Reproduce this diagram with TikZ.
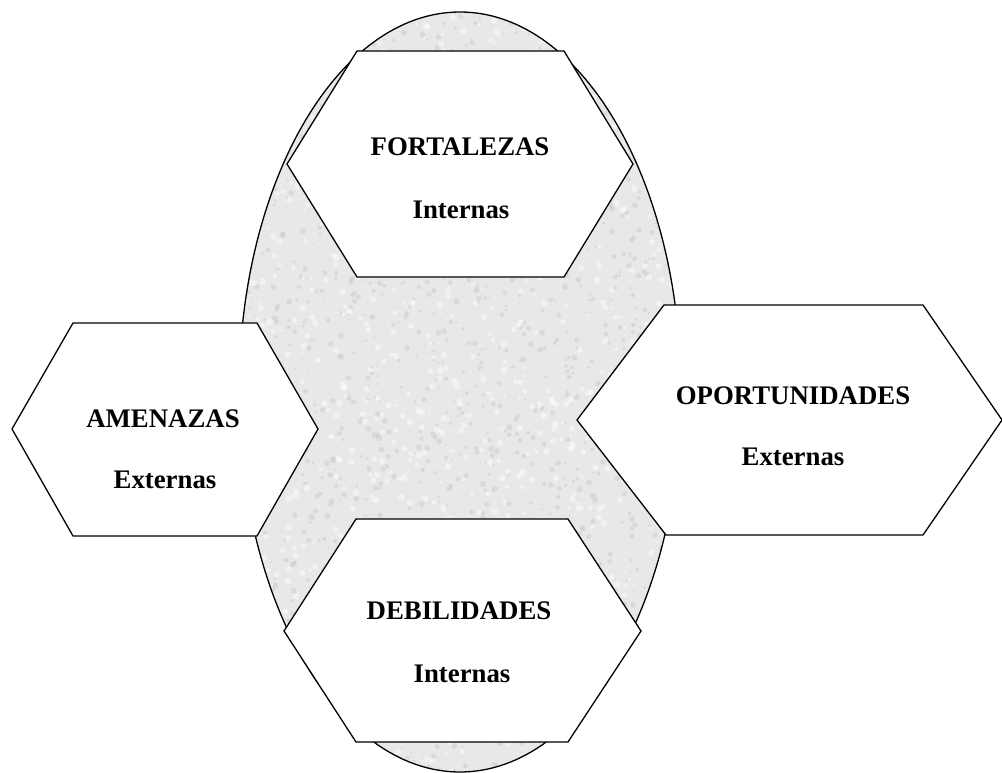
\documentclass[tikz,border=0pt]{standalone}
\usepackage{fontspec}
\setmainfont{Liberation Serif}
\begin{document}
\begin{tikzpicture}[x=1pt,y=-1pt,
  hexbox/.style={draw=black,fill=white,line width=1.3pt,line join=miter},
  label/.style={font=\fontsize{26.8}{30}\selectfont\bfseries,inner sep=0pt,anchor=center},
  ovalshape/.style={draw=black,line width=1.3pt}]
\useasboundingbox (0,0) rectangle (1002,773);
% textured oval
\fill[black!9] (460,392) ellipse [x radius=221,y radius=380];
\begin{scope}
  \clip (460,392) ellipse [x radius=221,y radius=380];
  \pgfmathsetseed{7}
  \foreach \i in {1,...,1600}{
    \fill[black!20,opacity=0.5] ({460+221*(2*rnd-1)},{392+380*(2*rnd-1)}) circle ({1+2*rnd});
  }
  \foreach \i in {1,...,1200}{
    \fill[white,opacity=0.45] ({460+221*(2*rnd-1)},{392+380*(2*rnd-1)}) circle ({1.5+2*rnd});
  }
\end{scope}
\draw[ovalshape] (460,392) ellipse [x radius=221,y radius=380];
% hexagons
\draw[hexbox] (287,164) -- (357,51) -- (564,51) -- (633,164) -- (564,277) -- (357,277) -- cycle;
\draw[hexbox] (12,429) -- (73,323) -- (257,323) -- (318,429) -- (257,536) -- (73,536) -- cycle;
\draw[hexbox] (577,420) -- (664,305) -- (923,305) -- (1002,420) -- (923,535) -- (666,535) -- cycle;
\draw[hexbox] (284,631) -- (356,519) -- (568,519) -- (641,631) -- (568,742) -- (356,742) -- cycle;
% labels
\node[label] (f1) at (460,147) {FORTALEZAS};
\node[label] (f2) at (461,210) {Internas};
\node[label] (a1) at (163,419) {AMENAZAS};
\node[label] (a2) at (165,480) {Externas};
\node[label] (o1) at (793,396) {OPORTUNIDADES};
\node[label] (o2) at (793,457) {Externas};
\node[label] (d1) at (459,611) {DEBILIDADES};
\node[label] (d2) at (462,674) {Internas};
\end{tikzpicture}
\end{document}
